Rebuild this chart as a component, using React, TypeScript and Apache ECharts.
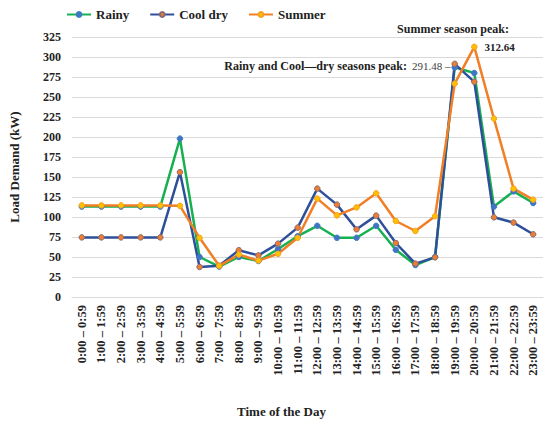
import React, { useEffect, useRef } from "react";
import * as echarts from "echarts";

const categories = [
  "0:00 – 0:59", "1:00 – 1:59", "2:00 – 2:59", "3:00 – 3:59", "4:00 – 4:59", "5:00 – 5:59",
  "6:00 – 6:59", "7:00 – 7:59", "8:00 – 8:59", "9:00 – 9:59", "10:00 – 10:59", "11:00 – 11:59",
  "12:00 – 12:59", "13:00 – 13:59", "14:00 – 14:59", "15:00 – 15:59", "16:00 – 16:59", "17:00 – 17:59",
  "18:00 – 18:59", "19:00 – 19:59", "20:00 – 20:59", "21:00 – 21:59", "22:00 – 22:59", "23:00 – 23:59",
];

const rainy = [113, 113, 113, 113, 113, 198, 50, 38, 50, 45, 60, 76, 89, 74, 74, 89, 59, 40, 50, 287, 280, 113, 132, 117.5];
const coolDry = [74.5, 74.5, 74.5, 74.5, 74.5, 156, 37.5, 39, 58.5, 52, 66.7, 86.7, 135.5, 115.5, 84.6, 101.7, 67.5, 41.7, 49.6, 291.48, 269, 99.6, 93, 78.4];
const summer = [114.5, 114.5, 114.5, 114.5, 114.5, 114, 74, 39, 53, 45.5, 54, 74, 123, 102, 112, 129.6, 95, 82.5, 101, 266.7, 312.64, 223, 135.5, 121.7];

const yTicks = { min: 0, max: 325, interval: 25 };

const FONT = "Liberation Serif";

export default function App() {
  const ref = useRef<HTMLDivElement>(null);
  useEffect(() => {
    if (!ref.current) return;
    const chart = echarts.init(ref.current, null, { renderer: "svg" });
    const summerPeak = summer.indexOf(Math.max(...summer));
    const coolPeak = coolDry.indexOf(Math.max(...coolDry));
    const summerData = summer.map((v, i) =>
      i === summerPeak
        ? {
            value: v,
            label: {
              show: true,
              position: "right",
              distance: 7,
              formatter: (p: any) => p.value.toFixed(2),
              fontFamily: FONT,
              fontWeight: "bold",
              fontSize: 11,
              color: "#222",
            },
          }
        : v
    );
    const coolData = coolDry.map((v, i) =>
      i === coolPeak
        ? {
            value: v,
            label: {
              show: true,
              position: "left",
              distance: 1,
              offset: [0, 2],
              formatter: (p: any) => p.value.toFixed(2) + " –",
              fontFamily: FONT,
              fontSize: 11,
              color: "#404040",
            },
          }
        : v
    );
    const mk = (name: string, data: any[], line: string, marker: string, border: string) => ({
      name,
      type: "line",
      data,
      symbol: "circle",
      symbolSize: 5.5,
      lineStyle: { color: line, width: 2.5 },
      itemStyle: { color: marker, borderColor: border, borderWidth: 1 },
      emphasis: { disabled: true },
    });
    chart.setOption({
      animation: false,
      textStyle: { fontFamily: FONT },
      legend: {
        left: 61,
        top: 3,
        itemWidth: 24,
        itemHeight: 6,
        itemGap: 20,
        textStyle: { fontFamily: FONT, fontWeight: "bold", fontSize: 13, color: "#222" },
        data: ["Rainy", "Cool dry", "Summer"],
      },
      grid: { left: 63, right: 7, top: 37, bottom: 128, containLabel: false },
      xAxis: {
        type: "category",
        data: categories,
        boundaryGap: true,
        axisLine: { show: true, lineStyle: { color: "#d9d9d9" } },
        axisTick: { show: false },
        axisLabel: {
          rotate: 90,
          interval: 0,
          margin: 8,
          fontFamily: FONT,
          fontWeight: "bold",
          fontSize: 12.5,
          color: "#222",
        },
      },
      yAxis: {
        type: "value",
        min: yTicks.min,
        max: yTicks.max,
        interval: yTicks.interval,
        name: "Load Demand (kW)",
        nameLocation: "middle",
        nameGap: 51,
        nameTextStyle: { fontFamily: FONT, fontWeight: "bold", fontSize: 13, color: "#222" },
        axisLine: { show: false },
        axisTick: { show: false },
        splitLine: { lineStyle: { color: "#d9d9d9", width: 1 } },
        axisLabel: { margin: 11, fontFamily: FONT, fontWeight: "bold", fontSize: 12, color: "#222" },
      },
      graphic: [
        {
          type: "text",
          left: 237,
          top: 405,
          style: { text: "Time of the Day", font: `bold 13px "${FONT}"`, fill: "#222" },
        },
        {
          type: "text",
          x: 453,
          y: 29,
          style: {
            text: "Summer season peak:",
            font: `bold 12px "${FONT}"`,
            fill: "#222",
            align: "center",
            verticalAlign: "middle",
          },
        },
        {
          type: "text",
          x: 407,
          y: 66,
          style: {
            text: "Rainy and Cool—dry seasons peak:",
            font: `bold 12px "${FONT}"`,
            fill: "#222",
            align: "right",
            verticalAlign: "middle",
          },
        },
      ],
      series: [
        mk("Rainy", rainy, "#16B050", "#4472C4", "#3a7fc0"),
        mk("Cool dry", coolData, "#2E4F9A", "#ED7D31", "#8a6a70"),
        mk("Summer", summerData, "#F07F25", "#FFC000", "#f5a020"),
      ],
    });
    return () => chart.dispose();
  }, []);
  return (
    <div
      ref={ref}
      style={{ position: "absolute", left: 0, top: 0, width: 550, height: 425 }}
    />
  );
}
